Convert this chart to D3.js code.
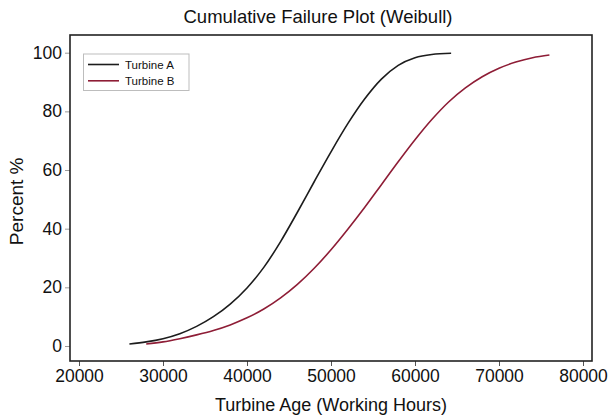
<!DOCTYPE html>
<html>
<head>
<meta charset="utf-8">
<script src="https://cdn.jsdelivr.net/npm/d3@7"></script>
<style>
  html, body { margin: 0; padding: 0; background: #fff; }
  svg { display: block; font-family: "Liberation Sans", Arial, sans-serif; }
</style>
</head>
<body>
<div id="chart"></div>
<script>
// Cumulative failure percentages by turbine age
const seriesNames = ["Turbine A", "Turbine B"];
const seriesColors = ["#1c1c1c", "#8e1d36"];

const hoursA = [26000, 28000, 30000, 32000, 34000, 36000, 38000, 40000, 42000, 44000,
                46000, 48000, 50000, 52000, 54000, 56000, 58000, 60000, 62000, 64300];
const percentA = [0.7, 1.4, 2.5, 4.2, 6.7, 10.0, 14.3, 19.8, 26.8, 35.6,
                  45.6, 56.0, 66.2, 75.8, 84.2, 91.0, 95.7, 98.3, 99.4, 99.8];

const hoursB = [28000, 30000, 32000, 34000, 36000, 38000, 40000, 42000, 44000, 46000,
                48000, 50000, 52000, 54000, 56000, 58000, 60000, 62000, 64000, 66000,
                68000, 70000, 72000, 74000, 76000];
const percentB = [0.7, 1.4, 2.5, 3.8, 5.3, 7.2, 9.6, 12.6, 16.4, 21.0,
                  26.5, 32.8, 39.8, 47.2, 55.0, 62.8, 70.3, 77.2, 83.2, 88.0,
                  91.8, 94.7, 96.8, 98.3, 99.2];

const xTicks = [20000, 30000, 40000, 50000, 60000, 70000, 80000];
const yTicks = [0, 20, 40, 60, 80, 100];

const W = 609, H = 417;
const frame = { left: 70, right: 592, top: 35, bottom: 361 };

const svg = d3.select("#chart").append("svg")
  .attr("width", W).attr("height", H);

const x = d3.scaleLinear().domain([20000, 80000]).range([79, 583]);
const y = d3.scaleLinear().domain([0, 100]).range([346, 52.7]);

// Title
svg.append("text")
  .attr("x", 318).attr("y", 23)
  .attr("text-anchor", "middle")
  .attr("font-size", 18.5)
  .attr("fill", "#111")
  .text("Cumulative Failure Plot (Weibull)");

// Axes
const yAxis = svg.append("g")
  .attr("transform", `translate(${frame.left},0)`)
  .call(d3.axisLeft(y).tickValues(yTicks).tickSize(5).tickPadding(3).tickFormat(d3.format("d")));
yAxis.select(".domain").remove();
yAxis.selectAll(".tick line").attr("stroke", "#9a9a9a");
yAxis.selectAll(".tick text")
  .attr("font-size", 17.5).attr("fill", "#111")
  .attr("font-family", "'Liberation Sans', Arial, sans-serif");

const xAxis = svg.append("g")
  .attr("transform", `translate(0,${frame.bottom})`)
  .call(d3.axisBottom(x).tickValues(xTicks).tickSize(5).tickPadding(4).tickFormat(d3.format("d")));
xAxis.select(".domain").remove();
xAxis.selectAll(".tick line").attr("stroke", "#555");
xAxis.selectAll(".tick text")
  .attr("font-size", 17.5).attr("fill", "#111")
  .attr("font-family", "'Liberation Sans', Arial, sans-serif");

// Axis titles
svg.append("text")
  .attr("x", (frame.left + frame.right) / 2).attr("y", 411)
  .attr("text-anchor", "middle")
  .attr("font-size", 18).attr("fill", "#111")
  .text("Turbine Age (Working Hours)");

svg.append("text")
  .attr("transform", `translate(23,${(y(0) + y(100)) / 2 + 2}) rotate(-90)`)
  .attr("text-anchor", "middle")
  .attr("font-size", 19).attr("fill", "#111")
  .text("Percent %");

// Plot frame
svg.append("rect")
  .attr("x", frame.left).attr("y", frame.top)
  .attr("width", frame.right - frame.left).attr("height", frame.bottom - frame.top)
  .attr("fill", "none").attr("stroke", "#222").attr("stroke-width", 1.6);

// Curves
const line = d3.line()
  .x(d => x(d[0])).y(d => y(d[1]))
  .curve(d3.curveMonotoneX);

const series = [
  d3.zip(hoursA, percentA),
  d3.zip(hoursB, percentB)
];

svg.append("g").selectAll("path")
  .data(series)
  .join("path")
  .attr("d", line)
  .attr("fill", "none")
  .attr("stroke", (d, i) => seriesColors[i])
  .attr("stroke-width", 1.6);

// Legend
const legend = svg.append("g");
legend.append("rect")
  .attr("x", 83.5).attr("y", 54).attr("width", 105.5).attr("height", 36.5)
  .attr("fill", "#fff").attr("stroke", "#bdbdbd").attr("stroke-width", 1);
seriesNames.forEach((name, i) => {
  const ly = 64.5 + i * 16.3;
  legend.append("line")
    .attr("x1", 88).attr("x2", 119).attr("y1", ly).attr("y2", ly)
    .attr("stroke", seriesColors[i]).attr("stroke-width", 1.6);
  legend.append("text")
    .attr("x", 125).attr("y", ly + 4)
    .attr("font-size", 11.5).attr("fill", "#111")
    .text(name);
});
</script>
</body>
</html>
